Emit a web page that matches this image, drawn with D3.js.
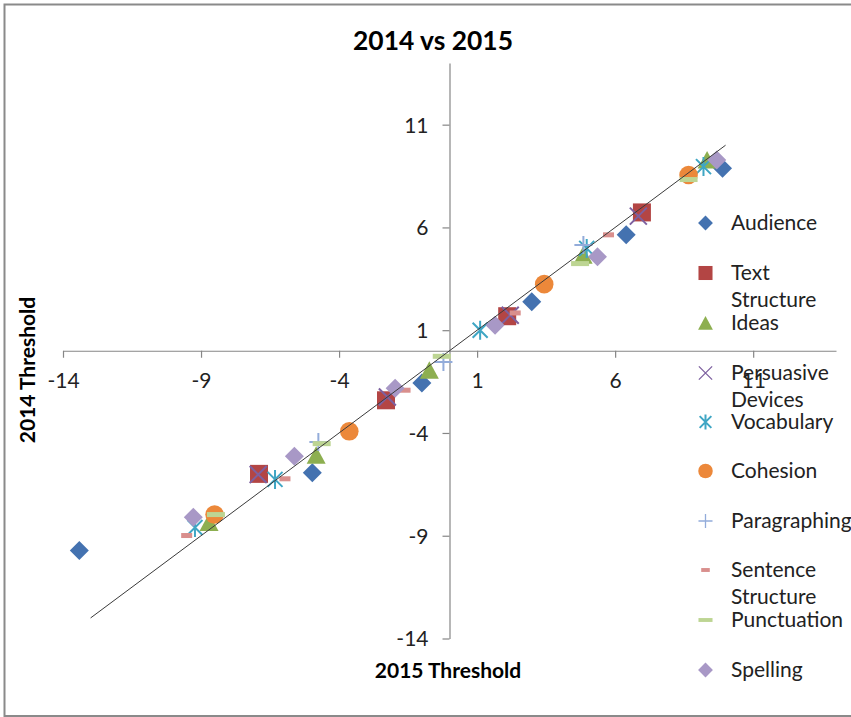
<!DOCTYPE html>
<html>
<head>
<meta charset="utf-8">
<script src="https://cdn.jsdelivr.net/npm/d3@7"></script>
<style>
  html, body { margin: 0; padding: 0; background: #fff; }
  svg { display: block; font-family: Lato, "Open Sans", "Liberation Sans", sans-serif; }
</style>
</head>
<body>
<svg id="chart" width="851" height="717"></svg>
<script>
// ---- Data (2015 threshold = x, 2014 threshold = y) ----
const seriesNames = ["Audience", "Text Structure", "Ideas", "Persuasive Devices", "Vocabulary",
  "Cohesion", "Paragraphing", "Sentence Structure", "Punctuation", "Spelling"];
const audience = [[-13.41, -9.72], [-4.97, -5.94], [-1.0, -1.57], [2.98, 2.38], [6.40, 5.64], [9.89, 8.88]];
const textStructure = [[-6.90, -5.99], [-2.30, -2.41], [2.09, 1.68], [6.97, 6.73]];
const ideas = [[-8.71, -8.36], [-4.83, -5.09], [-0.73, -0.95], [4.84, 4.65], [9.33, 9.28]];
const persuasiveDevices = [[-6.93, -6.02], [-2.25, -2.25], [2.20, 1.73], [6.84, 6.55]];
const vocabulary = [[-9.22, -8.60], [-6.32, -6.26], [1.11, 1.0], [4.97, 4.98], [9.20, 8.96]];
const cohesion = [[-8.51, -7.97], [-3.63, -3.92], [3.43, 3.24], [8.66, 8.55]];
const paragraphing = [[-4.75, -4.44], [-0.22, -0.55], [4.85, 5.14]];
const sentenceStructure = [[-9.52, -8.99], [-5.96, -6.23], [-1.61, -1.92], [2.38, 1.84], [5.76, 5.64]];
const punctuation = [[-8.46, -7.97], [-4.63, -4.52], [-0.28, -0.27], [4.73, 4.24], [8.66, 8.33]];
const spelling = [[-9.28, -8.10], [-5.62, -5.13], [-1.97, -1.83], [1.65, 1.24], [5.36, 4.57], [9.68, 9.28]];
const referenceLine = [[-13, -13], [10, 10]];
const xTicks = [-14, -9, -4, 1, 6, 11];
const yTicks = [-14, -9, -4, 1, 6, 11];

const seriesData = [audience, textStructure, ideas, persuasiveDevices, vocabulary,
  cohesion, paragraphing, sentenceStructure, punctuation, spelling];
const seriesColors = ["#4472B0", "#B34544", "#8DAF50", "#7D60A0", "#3FA6C4",
  "#EC883A", "#93ACDA", "#D98F8D", "#BDD593", "#A898C6"];
const seriesShapes = ["diamond", "square", "triangle", "x", "asterisk",
  "circle", "plus", "shortdash", "longdash", "diamond"];

// ---- Layout ----
const svg = d3.select("#chart");
const x = d3.scaleLinear().domain([-14, 14]).range([63, 836]);
const y = d3.scaleLinear().domain([-14, 14]).range([638.5, 63]);
const axisColor = "#868686";

// outer border
svg.append("rect").attr("x", 4.5).attr("y", 4.5).attr("width", 860).attr("height", 711.5)
  .attr("fill", "none").attr("stroke", "#8a8a8a").attr("stroke-width", 2);

// title
svg.append("text").attr("x", 433).attr("y", 50).attr("text-anchor", "middle")
  .attr("font-size", 26).attr("font-weight", "bold").attr("fill", "#000")
  .attr("textLength", 160).attr("lengthAdjust", "spacingAndGlyphs")
  .text("2014 vs 2015");

// axes
const xAxis = svg.append("g").attr("transform", `translate(0,${y(0)})`)
  .call(d3.axisBottom(x).tickValues(xTicks).tickSize(7).tickSizeOuter(0).tickFormat(d3.format("d")));
const yAxis = svg.append("g").attr("transform", `translate(${x(0)},0)`)
  .call(d3.axisLeft(y).tickValues(yTicks).tickSize(7).tickSizeOuter(0).tickFormat(d3.format("d")));
[xAxis, yAxis].forEach(g => {
  g.select(".domain").attr("stroke", axisColor).attr("stroke-width", 1.2);
  g.selectAll(".tick line").attr("stroke", axisColor).attr("stroke-width", 1.2);
  g.selectAll(".tick text").attr("fill", "#222").attr("font-size", 21)
    .attr("font-family", "Lato, 'Open Sans', sans-serif");
});
xAxis.selectAll(".tick text").attr("y", 30).attr("dy", "0.35em");
yAxis.selectAll(".tick text").attr("x", -21).attr("dy", "0.35em");
xAxis.selectAll(".tick text").text(d => d < 0 ? "-" + Math.abs(d) : d);
yAxis.selectAll(".tick text").text(d => d < 0 ? "-" + Math.abs(d) : d);

// axis titles
svg.append("text").attr("x", 448).attr("y", 678).attr("text-anchor", "middle")
  .attr("font-size", 21).attr("font-weight", "bold").attr("fill", "#000").text("2015 Threshold");
svg.append("text").attr("transform", "translate(35,370) rotate(-90)").attr("text-anchor", "middle")
  .attr("font-size", 21).attr("font-weight", "bold").attr("fill", "#000").text("2014 Threshold");

// ---- Marker drawing ----
function drawMarker(g, shape, color, s) {
  // s: scale factor (1 for plot, ~0.8 for legend)
  const r = 9.5 * s;
  switch (shape) {
    case "diamond":
      g.append("path").attr("d", `M0,${-r}L${r},0L0,${r}L${-r},0Z`).attr("fill", color);
      break;
    case "square":
      g.append("rect").attr("x", -9 * s).attr("y", -9 * s).attr("width", 18 * s).attr("height", 18 * s)
        .attr("fill", color);
      break;
    case "triangle":
      g.append("path").attr("d", `M0,${-9 * s}L${9.5 * s},${8.5 * s}L${-9.5 * s},${8.5 * s}Z`).attr("fill", color);
      break;
    case "circle":
      g.append("circle").attr("r", 9.3 * s).attr("fill", color);
      break;
    case "x": {
      const a = 8.5 * s;
      g.append("path").attr("d", `M${-a},${-a}L${a},${a}M${-a},${a}L${a},${-a}`)
        .attr("stroke", color).attr("stroke-width", s < 1 ? 1.3 : 2).attr("fill", "none");
      break;
    }
    case "asterisk": {
      const a = 7.5 * s, b = 9.5 * s;
      g.append("path").attr("d", `M${-a},${-a}L${a},${a}M${-a},${a}L${a},${-a}M0,${-b}L0,${b}`)
        .attr("stroke", color).attr("stroke-width", 2).attr("fill", "none");
      break;
    }
    case "plus": {
      const a = 9 * s;
      g.append("path").attr("d", `M${-a},0L${a},0M0,${-a}L0,${a}`)
        .attr("stroke", color).attr("stroke-width", s < 1 ? 1.3 : 2).attr("fill", "none");
      break;
    }
    case "shortdash":
      g.append("rect").attr("x", -5.5 * s).attr("y", -2.5 * s).attr("width", 11 * s).attr("height", 5 * s)
        .attr("fill", color);
      break;
    case "longdash":
      g.append("rect").attr("x", -9 * s).attr("y", -2.5 * s).attr("width", 18 * s).attr("height", 5 * s)
        .attr("fill", color);
      break;
  }
}

// ---- Points ----
const pointsG = svg.append("g");
seriesData.forEach((pts, i) => {
  const sg = pointsG.append("g").attr("class", "series");
  pts.forEach(p => {
    const mg = sg.append("g").attr("transform", `translate(${x(p[0])},${y(p[1])})`);
    drawMarker(mg, seriesShapes[i], seriesColors[i], 1);
  });
});

// reference line y = x
svg.append("path").datum(referenceLine)
  .attr("d", d3.line().x(d => x(d[0])).y(d => y(d[1])))
  .attr("stroke", "#3a3a3a").attr("stroke-width", 1).attr("fill", "none");

// ---- Legend ----
const legendY = [223, 273, 323, 373, 422, 471, 521, 570, 620, 670];
const legendLines = [["Audience"], ["Text", "Structure"], ["Ideas"], ["Persuasive", "Devices"], ["Vocabulary"],
  ["Cohesion"], ["Paragraphing"], ["Sentence", "Structure"], ["Punctuation"], ["Spelling"]];
const legend = svg.append("g");
seriesNames.forEach((name, i) => {
  const lg = legend.append("g").attr("transform", `translate(0,${legendY[i]})`);
  const mg = lg.append("g").attr("transform", "translate(705.5,0)");
  drawMarker(mg, seriesShapes[i], seriesColors[i], 0.78);
  const t = lg.append("text").attr("x", 731).attr("y", 0).attr("dy", "0.35em")
    .attr("font-size", 21).attr("fill", "#222");
  legendLines[i].forEach((line, j) => {
    t.append("tspan").attr("x", 731).attr("dy", j === 0 ? "0.35em" : 27).text(line);
  });
});
</script>
</body>
</html>
